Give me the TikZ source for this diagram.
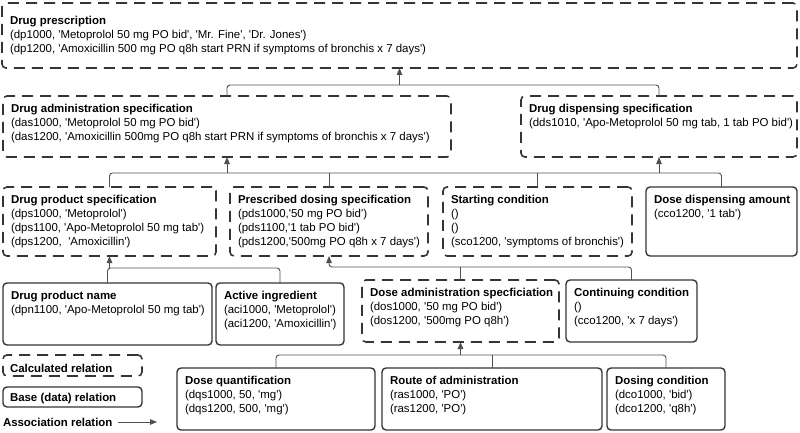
\documentclass[tikz,border=0pt]{standalone}
\usepackage{fontspec}
\newfontfamily\lsans{Liberation Sans}
\usetikzlibrary{arrows.meta}
\definecolor{edgecol}{HTML}{353535}
\definecolor{conncol}{HTML}{505050}
\tikzset{
  calcbox/.style={draw=edgecol, line width=1.6pt, dash pattern=on 11pt off 7pt, rounded corners=4pt, anchor=north west, inner sep=0pt, outer sep=0pt},
  basebox/.style={draw=edgecol, line width=1.4pt, rounded corners=4pt, anchor=north west, inner sep=0pt, outer sep=0pt},
  boxtext/.style={anchor=north west, align=left, inner sep=0pt, outer sep=0pt, font=\lsans\fontsize{11.45}{14}\selectfont, text=black},
  legtext/.style={anchor=west, inner sep=0pt, outer sep=0pt, font=\lsans\fontsize{11.45}{14}\selectfont\bfseries, text=black},
  conn/.style={draw=conncol, line width=0.9pt, rounded corners=3pt},
  tip/.tip={Triangle[length=7pt,width=5.5pt]},
  assoc/.style={conn, -tip}
}
% [#1 text drop], #2 style, #3 name, #4 x1, #5 y1, #6 x2, #7 y2, #8 title, #9 body
\newcommand\relnode[9][8pt]{%
  \node[#2, minimum width={(#6)-(#4)}, minimum height={(#7)-(#5)}] (#3) at (#4,#5) {};
  \node[boxtext] (#3t) at ([shift={(8pt,-#1)}]#3.north west) {\textbf{#8}\\#9};
}
\begin{document}
\begin{tikzpicture}[x=1pt,y=-1pt]
\fill[white] (0,0) rectangle (800,433);
\useasboundingbox (0,0) rectangle (800,433);

\relnode[13pt]{calcbox}{dp}{2}{3}{797}{68}{Drug prescription}{(dp1000, 'Metoprolol 50 mg PO bid', 'Mr. Fine', 'Dr. Jones')\\(dp1200, 'Amoxicillin 500 mg PO q8h start PRN if symptoms of bronchis x 7 days')}

\relnode{calcbox}{das}{3}{96}{451}{157}{Drug administration specification}{(das1000, 'Metoprolol 50 mg PO bid')\\(das1200, 'Amoxicillin 500mg PO q8h start PRN if symptoms of bronchis x 7 days')}
\relnode{calcbox}{dds}{521}{96}{797}{157}{Drug dispensing specification}{(dds1010, 'Apo-Metoprolol 50 mg tab, 1 tab PO bid')}

\relnode{calcbox}{dps}{3}{187}{216}{256}{Drug product specification}{(dps1000, 'Metoprolol')\\(dps1100, 'Apo-Metoprolol 50 mg tab')\\(dps1200,\ \ 'Amoxicillin')}
\relnode{calcbox}{pds}{230}{187}{428}{256}{Prescribed dosing specification}{(pds1000,'50 mg PO bid')\\(pds1100,'1 tab PO bid')\\(pds1200,'500mg PO q8h x 7 days')}
\relnode{calcbox}{sc}{443}{187}{632}{256}{Starting condition}{()\\()\\(sco1200, 'symptoms of bronchis')}
\relnode{basebox}{dda}{646}{187}{797}{256}{Dose dispensing amount}{(cco1200, '1 tab')}

\relnode{basebox}{dpn}{3}{283}{212}{345}{Drug product name}{(dpn1100, 'Apo-Metoprolol 50 mg tab')}
\relnode{basebox}{aci}{216}{283}{344}{345}{Active ingredient}{(aci1000, 'Metoprolol')\\(aci1200, 'Amoxicillin')}
\relnode{calcbox}{dos}{362}{280}{559}{342}{Dose administration specficiation}{(dos1000, '50 mg PO bid')\\(dos1200, '500mg PO q8h')}
\relnode{basebox}{cco}{566}{280}{697}{342}{Continuing condition}{()\\(cco1200, 'x 7 days')}

\relnode{basebox}{dqs}{177}{368}{375}{430}{Dose quantification}{(dqs1000, 50, 'mg')\\(dqs1200, 500, 'mg')}
\relnode{basebox}{ras}{382}{368}{602}{430}{Route of administration}{(ras1000, 'PO')\\(ras1200, 'PO')}
\relnode{basebox}{dco}{607}{368}{725}{430}{Dosing condition}{(dco1000, 'bid')\\(dco1200, 'q8h')}

% bus coordinates
\coordinate (bus1) at (0,85);
\coordinate (bus2) at (0,173);
\coordinate (bus3) at (0,268);
\coordinate (bus4) at (0,267);
\coordinate (bus5) at (0,355);

% to drug prescription
\draw[conn] (das.north) -- (das.north |- bus1) -- (dds.north |- bus1) -- (dds.north);
\draw[assoc] (dp.south |- bus1) -- (dp.south);

% to administration / dispensing specification
\draw[conn] (dps.north) -- (dps.north |- bus2) -- (dda.north |- bus2) -- (dda.north);
\draw[conn] (pds.north |- bus2) -- (pds.north);
\draw[conn] (sc.north |- bus2) -- (sc.north);
\draw[assoc] (das.south |- bus2) -- (das.south);
\draw[assoc] (dds.south |- bus2) -- (dds.south);

% to drug product specification
\draw[conn] (dpn.north) -- (dpn.north |- bus3) -- (aci.north |- bus3) -- (aci.north);
\draw[assoc] (dps.south |- bus3) -- (dps.south);

% to prescribed dosing specification
\draw[conn, tip-] (pds.south) -- (pds.south |- bus4) -- (cco.north |- bus4) -- (cco.north);
\draw[conn] (dos.north |- bus4) -- (dos.north);

% to dose administration specification
\draw[conn] (dqs.north) -- (dqs.north |- bus5) -- (dco.north |- bus5) -- (dco.north);
\draw[conn] (ras.north |- bus5) -- (ras.north);
\draw[assoc] (dos.south |- bus5) -- (dos.south);

% legend
\node[calcbox, minimum width=139, minimum height=21] (lcalc) at (3,355) {};
\node[legtext] (lcalct) at ([shift={(7pt,-3pt)}]lcalc.west) {Calculated relation};
\node[basebox, minimum width=139, minimum height=20] (lbase) at (3,387) {};
\node[legtext] (lbaset) at ([shift={(7pt,-2pt)}]lbase.west) {Base (data) relation};
\node[legtext] (lassoc) at (3,422) {Association relation};
\coordinate (lassocend) at (157,422);
\draw[assoc] ([xshift=6pt]lassoc.east) -- (lassocend);
\end{tikzpicture}
\end{document}
